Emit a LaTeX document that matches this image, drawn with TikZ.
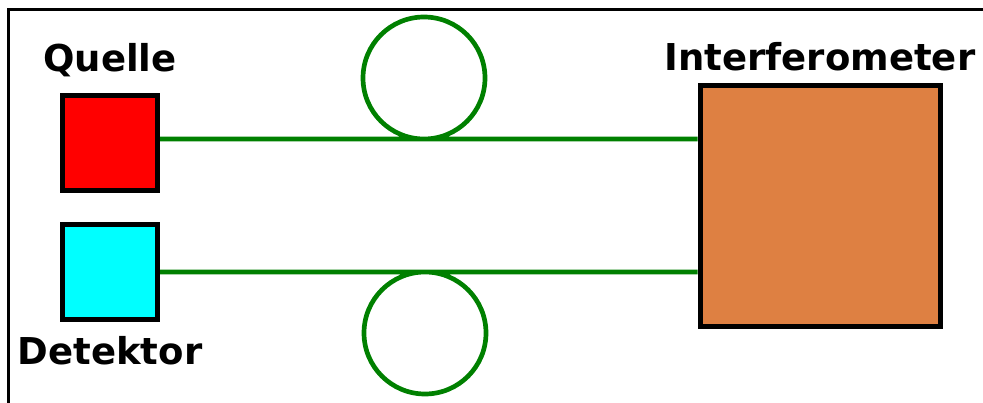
\documentclass[tikz,border=0pt]{standalone}
\usepackage{fontspec}
\usepackage{tikz}
\usepackage{xcolor}
\usetikzlibrary{positioning}
\newfontfamily\lblfont{DejaVu Sans}
\definecolor{fibregreen}{RGB}{0,128,0}
\definecolor{srcred}{RGB}{255,0,0}
\definecolor{detcyan}{RGB}{0,255,255}
\definecolor{ifmorange}{RGB}{222,128,66}

\begin{document}
\begin{tikzpicture}[x=0.75pt,y=0.75pt,yscale=-1,xscale=1,
  box/.style={draw=black, line width=3.75pt, inner sep=0pt},
  lbl/.style={font=\lblfont\bfseries\fontsize{27.75}{30}\selectfont, inner sep=0pt},
  fibre/.style={draw=fibregreen, line width=3.5pt},
  frame/.style={draw=black, line width=2.25pt}]
\useasboundingbox (0,0) rectangle (983,403);

%Frame
\draw [frame] (983,10) -- (8,10) -- (8,403) ;

%Boxes
\node [box, fill=srcred, minimum size=71.25pt] (quelle) at (110,143) {};
\node [box, fill=detcyan, minimum size=71.25pt] (detektor) at (110,271.5) {};
\node [box, fill=ifmorange, minimum size=180pt] (interf) at (820,206) {};

% Text Node
\node [lbl, above=15.75pt of quelle, anchor=base] (quelletxt) {Quelle};
% Text Node
\node [lbl, below=32pt of detektor, anchor=base] (detektortxt) {Detektor};
% Text Node
\node [lbl, above=9.75pt of interf, anchor=base] (interftxt) {Interferometer};

%Fibres with loops
\draw [fibre] (quelle.east |- 0,139) -- (424,139) arc [start angle=90, end angle=-270, radius=61] -- (interf.west |- 0,139) ;
\draw [fibre] (detektor.east |- 0,272) -- (425,272) arc [start angle=-90, end angle=270, radius=61] -- (interf.west |- 0,272) ;

\end{tikzpicture}
\end{document}
